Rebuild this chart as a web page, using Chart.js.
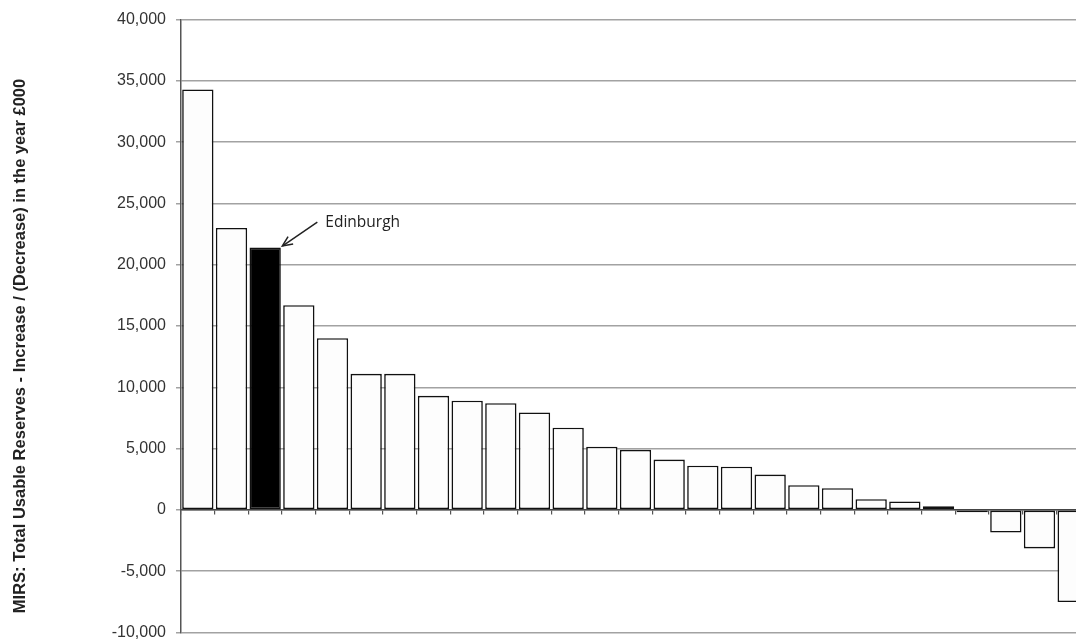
<!DOCTYPE html>
<html>
<head>
<meta charset="utf-8">
<script src="https://cdn.jsdelivr.net/npm/chart.js@4.4.1/dist/chart.umd.min.js"></script>
<style>
  html, body { margin: 0; padding: 0; background: #ffffff; overflow: hidden; }
  #wrap { width: 1090px; height: 652px; }
</style>
</head>
<body>
<div id="wrap"><canvas id="c" width="1090" height="652"></canvas></div>
<script>
// ---- data ----
const categories = [
  "Council 1", "Council 2", "Edinburgh", "Council 4", "Council 5", "Council 6",
  "Council 7", "Council 8", "Council 9", "Council 10", "Council 11", "Council 12",
  "Council 13", "Council 14", "Council 15", "Council 16", "Council 17", "Council 18",
  "Council 19", "Council 20", "Council 21", "Council 22", "Council 23", "Council 24",
  "Council 25", "Council 26", "Council 27"
];
const reserveChange = [
  34300, 23000, 21400, 16700, 14000, 11100,
  11100, 9300, 8900, 8700, 7950, 6700,
  5150, 4900, 4100, 3600, 3520, 2880,
  2010, 1770, 870, 680, 300, -200,
  -1850, -3150, -7520
];
const highlightName = "Edinburgh";
const yMin = -10000, yMax = 40000, yStep = 5000;
const yTitle = "MIRS: Total Usable Reserves - Increase / (Decrease) in the year \u00A3000";

const fills = categories.map(c => c === highlightName ? "#000000" : "#fdfdfd");

const annotate = {
  id: "annotate",
  afterDatasetsDraw(chart) {
    const idx = categories.indexOf(highlightName);
    const el = chart.getDatasetMeta(0).data[idx];
    if (!el) return;
    const ctx = chart.ctx;
    const tipX = el.x + el.width / 2 + 1.5;
    const tipY = el.y - 1.5;
    const startX = tipX + 35, startY = tipY - 24;
    ctx.save();
    ctx.strokeStyle = "#222";
    ctx.lineWidth = 1.5;
    ctx.beginPath();
    ctx.moveTo(startX, startY);
    ctx.lineTo(tipX, tipY);
    ctx.stroke();
    const ang = Math.atan2(tipY - startY, tipX - startX);
    const L = 11, spread = 0.42;
    ctx.beginPath();
    ctx.moveTo(tipX - L * Math.cos(ang - spread), tipY - L * Math.sin(ang - spread));
    ctx.lineTo(tipX, tipY);
    ctx.lineTo(tipX - L * Math.cos(ang + spread), tipY - L * Math.sin(ang + spread));
    ctx.stroke();
    ctx.fillStyle = "#222";
    ctx.font = "15.5px 'Open Sans'";
    ctx.textBaseline = "middle";
    ctx.textAlign = "left";
    ctx.fillText(highlightName, startX + 8, startY + 1);
    ctx.restore();
  }
};

const sideTitle = {
  id: "sideTitle",
  afterDraw(chart) {
    const a = chart.chartArea;
    const ctx = chart.ctx;
    ctx.save();
    ctx.translate(20, (a.top + a.bottom) / 2 + 20);
    ctx.rotate(-Math.PI / 2);
    ctx.fillStyle = "#222222";
    ctx.font = "bold 16.5px 'Liberation Sans', Arial, sans-serif";
    ctx.textAlign = "center";
    ctx.textBaseline = "middle";
    ctx.fillText(yTitle, 0, 0);
    ctx.restore();
  }
};

new Chart(document.getElementById("c"), {
  type: "bar",
  data: {
    labels: categories,
    datasets: [{
      data: reserveChange,
      backgroundColor: fills,
      borderColor: "#111111",
      borderWidth: 1.6,
      borderSkipped: false,
      barPercentage: 0.93,
      categoryPercentage: 1.0
    }]
  },
  options: {
    responsive: false,
    animation: false,
    devicePixelRatio: 1,
    layout: { padding: { left: 0, right: 0, top: 19, bottom: 0 } },
    plugins: { legend: { display: false }, tooltip: { enabled: false } },
    scales: {
      x: {
        position: { y: 0 },
        afterFit(scale) { scale.height = 0; },
        ticks: { display: false },
        grid: { display: true, drawOnChartArea: false, drawTicks: true, tickLength: 4, color: "#555555", lineWidth: 1.2, offset: true },
        border: { display: true, color: "#444444", width: 1.5 }
      },
      y: {
        min: yMin, max: yMax,
        afterFit(scale) { scale.width = 181; },
        ticks: {
          stepSize: yStep,
          padding: 10,
          color: "#333333",
          font: { family: "'Liberation Sans', Arial, sans-serif", size: 16 },
          callback: v => Number(v).toLocaleString("en-US")
        },
        grid: { color: "#a2a2a2", lineWidth: 1.5, tickLength: 5, drawTicks: true },
        border: { display: true, color: "#555555", width: 1.5 },
        title: { display: false, text: yTitle }
      }
    }
  },
  plugins: [annotate, sideTitle]
});
</script>
</body>
</html>
